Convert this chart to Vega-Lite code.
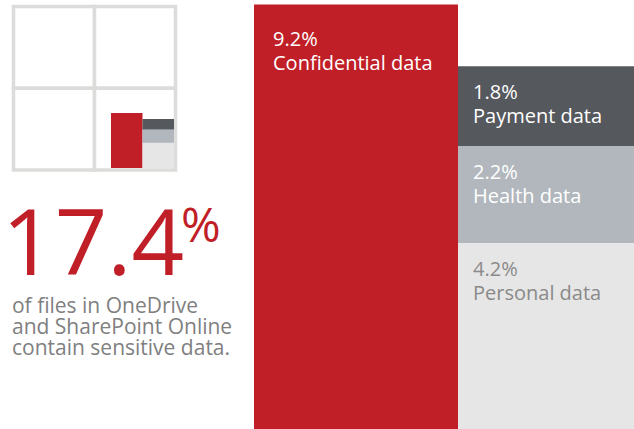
{
  "$schema": "https://vega.github.io/schema/vega-lite/v6.json",
  "padding": 0,
  "background": "white",
  "spacing": 0,
  "bounds": "flush",
  "config": {
    "view": {"stroke": null},
    "font": "Open Sans",
    "locale": {"number": {"decimal": ".", "thousands": ",", "grouping": [3], "currency": ["", "%"]}}
  },
  "datasets": {
    "shares": [
      {"type": "Confidential data", "group": "Confidential", "share": 9.2},
      {"type": "Payment data", "group": "Other", "share": 1.8},
      {"type": "Health data", "group": "Other", "share": 2.2},
      {"type": "Personal data", "group": "Other", "share": 4.2}
    ],
    "cells": [
      {"row": 0, "col": 0},
      {"row": 0, "col": 1},
      {"row": 1, "col": 0},
      {"row": 1, "col": 1}
    ]
  },
  "hconcat": [
    {
      "width": 254,
      "height": 429,
      "layer": [
        {
          "data": {"name": "cells"},
          "mark": {"type": "rect", "fill": "white", "stroke": "#dcdcda", "strokeWidth": 3.5},
          "encoding": {
            "x": {"field": "col", "type": "ordinal", "axis": null, "scale": {"range": [13.5, 175.5], "paddingInner": 0, "paddingOuter": 0}},
            "y": {"field": "row", "type": "ordinal", "axis": null, "scale": {"range": [6.5, 170], "paddingInner": 0, "paddingOuter": 0}}
          }
        },
        {
          "data": {"name": "shares"},
          "transform": [
            {"stack": "share", "groupby": ["group"], "sort": [{"field": "share", "order": "descending"}], "as": ["lo", "hi"]}
          ],
          "mark": {"type": "bar"},
          "encoding": {
            "x": {"field": "group", "type": "nominal", "axis": null, "scale": {"range": [111, 174], "paddingInner": 0, "paddingOuter": 0}},
            "y": {"field": "lo", "type": "quantitative", "axis": null, "scale": {"domain": [0, 9.2], "nice": false, "range": [168, 113]}},
            "y2": {"field": "hi"},
            "color": {"field": "type", "type": "nominal", "legend": null,
              "scale": {"domain": ["Confidential data", "Payment data", "Health data", "Personal data"], "range": ["#c11f27", "#55585d", "#b1b7bd", "#e6e6e6"]}}
          }
        },
        {
          "data": {"name": "shares"},
          "transform": [{"aggregate": [{"op": "sum", "field": "share", "as": "total"}]}],
          "mark": {"type": "text", "align": "left", "baseline": "alphabetic", "font": "Open Sans", "fontSize": 92, "color": "#c11f27"},
          "encoding": {
            "x": {"datum": 0.008, "type": "quantitative", "axis": null, "scale": {"domain": [0, 1], "nice": false}},
            "y": {"datum": 0.641, "type": "quantitative", "axis": null, "scale": {"domain": [1, 0], "nice": false}},
            "text": {"field": "total", "type": "quantitative", "format": ".1f"}
          }
        },
        {
          "data": {"values": [{}]},
          "mark": {"type": "text", "text": "%", "align": "left", "baseline": "alphabetic", "font": "Open Sans", "fontSize": 48, "color": "#c11f27"},
          "encoding": {
            "x": {"datum": 0.7126, "type": "quantitative", "axis": null, "scale": {"domain": [0, 1], "nice": false}},
            "y": {"datum": 0.5641, "type": "quantitative", "axis": null, "scale": {"domain": [1, 0], "nice": false}}
          }
        },
        {
          "data": {"values": [{}]},
          "mark": {"type": "text", "text": ["of files in OneDrive", "and SharePoint Online", "contain sensitive data."], "align": "left", "baseline": "alphabetic", "font": "Open Sans", "fontSize": 21, "lineHeight": 21, "color": "#808080"},
          "encoding": {
            "x": {"datum": 0.0472, "type": "quantitative", "axis": null, "scale": {"domain": [0, 1], "nice": false}},
            "y": {"datum": 0.7296, "type": "quantitative", "axis": null, "scale": {"domain": [1, 0], "nice": false}}
          }
        }
      ],
      "resolve": {"scale": {"x": "independent", "y": "independent"}}
    },
    {
      "width": 204,
      "height": 429,
      "data": {"name": "shares"},
      "transform": [{"filter": {"field": "group", "equal": "Confidential"}}],
      "layer": [
        {
          "mark": {"type": "bar"},
          "encoding": {
            "x": {"field": "group", "type": "nominal", "axis": null, "scale": {"paddingInner": 0, "paddingOuter": 0}},
            "y": {"field": "share", "type": "quantitative", "axis": null, "scale": {"domain": [0, 9.3], "nice": false}},
            "color": {"field": "type", "type": "nominal", "legend": null}
          }
        },
        {
          "mark": {"type": "text", "align": "left", "baseline": "alphabetic", "dx": 19, "dy": 41, "font": "Open Sans", "fontSize": 20, "color": "white"},
          "encoding": {
            "x": {"field": "group", "type": "nominal", "bandPosition": 0, "axis": null},
            "y": {"field": "share", "type": "quantitative", "axis": null},
            "text": {"field": "share", "type": "quantitative", "format": "$.1f"}
          }
        },
        {
          "mark": {"type": "text", "align": "left", "baseline": "alphabetic", "dx": 19, "dy": 65, "font": "Open Sans", "fontSize": 20, "color": "white"},
          "encoding": {
            "x": {"field": "group", "type": "nominal", "bandPosition": 0, "axis": null},
            "y": {"field": "share", "type": "quantitative", "axis": null},
            "text": {"field": "type", "type": "nominal"}
          }
        }
      ]
    },
    {
      "width": 176,
      "height": 429,
      "data": {"name": "shares"},
      "transform": [
        {"filter": {"field": "group", "equal": "Other"}},
        {"stack": "share", "groupby": ["group"], "sort": [{"field": "share", "order": "descending"}], "as": ["lo", "hi"]}
      ],
      "layer": [
        {
          "mark": {"type": "bar"},
          "encoding": {
            "x": {"field": "group", "type": "nominal", "axis": null, "scale": {"paddingInner": 0, "paddingOuter": 0}},
            "y": {"field": "lo", "type": "quantitative", "axis": null, "scale": {"domain": [0, 9.7], "nice": false}},
            "y2": {"field": "hi"},
            "color": {"field": "type", "type": "nominal", "legend": null}
          }
        },
        {
          "mark": {"type": "text", "align": "left", "baseline": "alphabetic", "dx": 15, "dy": 33, "font": "Open Sans", "fontSize": 20},
          "encoding": {
            "x": {"field": "group", "type": "nominal", "bandPosition": 0, "axis": null},
            "y": {"field": "hi", "type": "quantitative", "axis": null},
            "text": {"field": "share", "type": "quantitative", "format": "$.1f"},
            "color": {"condition": {"test": "datum.type === 'Personal data'", "value": "#8a8a8a"}, "value": "white"}
          }
        },
        {
          "mark": {"type": "text", "align": "left", "baseline": "alphabetic", "dx": 15, "dy": 57, "font": "Open Sans", "fontSize": 20},
          "encoding": {
            "x": {"field": "group", "type": "nominal", "bandPosition": 0, "axis": null},
            "y": {"field": "hi", "type": "quantitative", "axis": null},
            "text": {"field": "type", "type": "nominal"},
            "color": {"condition": {"test": "datum.type === 'Personal data'", "value": "#8a8a8a"}, "value": "white"}
          }
        }
      ]
    }
  ]
}
